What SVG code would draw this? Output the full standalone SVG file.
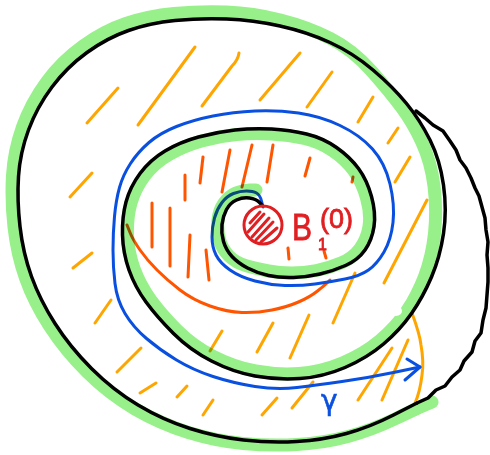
<svg xmlns="http://www.w3.org/2000/svg" width="490" height="455" viewBox="0 0 490 455">
<style>
.k{fill:none;stroke:#000;stroke-width:3.5;stroke-linecap:round;stroke-linejoin:round}
.o{fill:none;stroke:#ffa500;stroke-width:3;stroke-linecap:round;stroke-linejoin:round}
.r{fill:none;stroke:#ff5500;stroke-width:3;stroke-linecap:round;stroke-linejoin:round}
.b{fill:none;stroke:#0a50e0;stroke-width:3;stroke-linecap:round;stroke-linejoin:round}
.g{fill:none;stroke:#98f08a;stroke-width:13;stroke-linecap:round;stroke-linejoin:round}
.red{fill:none;stroke:#e01f22;stroke-width:3;stroke-linecap:round}
</style>
<rect width="490" height="455" fill="#fff"/>
<g id="outer-hatching" class="o">
<path d="M195,47 L138,125"/>
<path d="M239,53 Q238,60 232,66 L202,106"/>
<path d="M300,53 L260,100"/>
<path d="M332,72 L307,107"/>
<path d="M118,88 L87,123"/>
<path d="M373,97 L358,122"/>
<path d="M398,128 L388,143"/>
<path d="M410,157 L395,182"/>
<path d="M92,173 L70,197"/>
<path d="M427,200 L384,283"/>
<path d="M92,253 L73,268"/>
<path d="M355,273 L333,323"/>
<path d="M111,300 L95,323"/>
<path d="M309,315 L290,358"/>
<path d="M273,323 L257,352"/>
<path d="M222,331 L210,351"/>
<path d="M141,348 L117,372"/>
<path d="M156,383 L140,393"/>
<path d="M187,386 L177,397"/>
<path d="M213,400 L203,415"/>
<path d="M277,398 L262,415"/>
<path d="M313,382 L292,408"/>
<path d="M392,348 L358,400"/>
<path d="M408,340 L382,400"/>
<path d="M412,313 Q420,335 421,345 Q424,362 422,375 Q420,392 415,403"/>
</g>
<g id="inner-hatching" class="r">
<path d="M185,175 L185,200"/>
<path d="M203,157 L200,183"/>
<path d="M230,150 L222,192"/>
<path d="M252,145 L242,187"/>
<path d="M273,145 L267,182"/>
<path d="M310,158 L305,176"/>
<path d="M353,177 L352,182"/>
<path d="M152,203 L152,247"/>
<path d="M170,208 L170,266"/>
<path d="M190,235 L188,277"/>
<path d="M206,250 L209,280"/>
<path d="M288,248 L289,259"/>
<path d="M324,251 L326,258"/>
<path d="M127,225 L130,232.5 Q133,240 140,250 Q147,260 157,270 Q167,280 180,290 Q193,300 210,306 Q227,312 242,312.5 Q257,313 272,310 Q287,307 298.5,302 Q310,297 317.5,291 Q325,285 327.5,282.5 L330,280"/>
</g>
<g id="connectors">
<path id="gamma-path" class="b" d="M263,207 L261.5,201 Q260,195 256.5,193 Q253,191 246.5,191 Q240,191 233.5,193.5 Q227,196 222,202.5 Q217,209 214.5,218 Q212,227 212,237 Q212,247 216,255 Q220,263 230,270 Q240,277 255,281 Q270,285 285,285.5 Q300,286 315,284 Q330,282 345,279 Q360,276 368.5,270 Q377,264 384,252 Q391,240 393,222.5 Q395,205 390,184 Q385,163 372.5,149 Q360,135 340,125.5 Q320,116 298.5,113 Q277,110 255,111 Q233,112 213,116 Q193,120 176.5,126.5 Q160,133 149,142.5 Q138,152 130.5,163.5 Q123,175 119.5,187.5 Q116,200 114.5,216.5 Q113,233 113,250 Q113,267 115,283.5 Q117,300 125,313.5 Q133,327 146.5,338.5 Q160,350 176.5,360 Q193,370 213,376.5 Q233,383 255,386.5 Q277,390 297,387.5 Q317,385 342,381.5 Q367,378 393.5,372.5 L420,367"/>
<path class="b" d="M407,359 L420,367 L405,380"/>
</g>
<g id="spiral" class="k">
<path d="M262,205 L259,202 Q256,199 249.5,198 Q243,197 236.5,200 Q230,203 226.5,209.5 Q223,216 222,224.5 Q221,233 223.5,241.5 Q226,250 232,256.5 Q238,263 247.5,268 Q257,273 268.5,275.5 Q280,278 293.5,277.5 Q307,277 320,274 Q333,271 345.5,265.5 Q358,260 365,250 Q372,240 374,226.5 Q376,213 371.5,196.5 Q367,180 358.5,168.5 Q350,157 336.5,147.5 Q323,138 306.5,134 Q290,130 271.5,129 Q253,128 235,130 Q217,132 198.5,137 Q180,142 165,151 Q150,160 140,173.5 Q130,187 126,202 Q122,217 122.5,235 Q123,253 129,270 Q135,287 146,302 Q157,317 173.5,333.5 Q190,350 211.5,361 Q233,372 255,376 Q277,380 300,378.5 Q323,377 345,367.5 Q367,358 383.5,344 Q400,330 411.5,313.5 Q423,297 431.5,277 Q440,257 443.5,233.5 Q447,210 443.5,185 Q440,160 430,140 Q420,120 406.5,103.5 Q393,87 373,70 Q353,53 330,42.5 Q307,32 280,26 Q253,20 226.5,19 Q200,18 175,20.5 Q150,23 128.5,30.5 Q107,38 87,52.5 Q67,67 52,87 Q37,107 28.5,130 Q20,153 18.5,176.5 Q17,200 20,226.5 Q23,253 31.5,276.5 Q40,300 55,323.5 Q70,347 91.5,368.5 Q113,390 138,405 Q163,420 190,428.5 Q217,437 243.5,440 Q270,443 296.5,441.5 Q323,440 346.5,433.5 Q370,427 393.5,415 L417,403"/>
<path d="M417,403 L428,398 L436,390 L445,386 L452,377 L460,370 L464,361 L472,352 L475,341 L481,333 L483,320 L486,308 L487,295 L488,282 L488,268 L487,255 L488,242 L486,230 L485,218 L482,207 L479,196 L475,188 L471,178 L466,168 L460,160 L456,150 L450,141 L443,131 L433,125 L425,118 L416,111"/>
</g>
<g id="highlight" style="mix-blend-mode:multiply">
<path class="g" d="M256,190 L249.5,190 Q243,190 236,193 Q229,196 224,203 Q219,210 218,220 Q217,230 219.5,239.5 Q222,249 229,256 Q236,263 247,266 Q258,269 268.5,271 Q279,273 291.5,273 Q304,273 316.5,270.5 Q329,268 341,263 Q353,258 360,248.5 Q367,239 369,226.5 Q371,214 366.5,198 Q362,182 354,171 Q346,160 333,151 Q320,142 304.5,138.5 Q289,135 271.5,134 Q254,133 236.5,134.5 Q219,136 201.5,141 Q184,146 169,154.5 Q154,163 144.5,176 Q135,189 131,203 Q127,217 127.5,234.5 Q128,252 134,268.5 Q140,285 150.5,299.5 Q161,314 177,330 Q193,346 213.5,356.5 Q234,367 255.5,371 Q277,375 299,373.5 Q321,372 342.5,363 Q364,354 380,340.5 Q396,327 406.5,311.5 Q417,296 424.5,276.5 Q432,257 434.5,233.5 Q437,210 434,186 Q431,162 422,142.5 Q413,123 401.5,107.5 Q390,92 371.5,71 Q353,50 330.5,38.5 Q308,27 280.5,20 Q253,13 226.5,12 Q200,11 174,13.5 Q148,16 126,23.5 Q104,31 83,46 Q62,61 46.5,82 Q31,103 22.5,127 Q14,151 12.5,175.5 Q11,200 14,227 Q17,254 25.5,278 Q34,302 49.5,326 Q65,350 87,372 Q109,394 135,409 Q161,424 188.5,432.5 Q216,441 243,443.5 Q270,446 297,444.5 Q324,443 348,436.5 Q372,430 396,418.5 Q420,407 426,404.5 L432,402"/>
</g>
<ellipse cx="396" cy="311" rx="6" ry="5" fill="#fff"/>
<g id="ball">
<circle class="red" cx="263" cy="225" r="19"/>
<path class="red" d="M250,223 L260,212 M248,232 L264,214 M252,237 L269,218 M256,240 L273,222 M261,242 L277,228"/>
<text fill="#e01f22" stroke="#e01f22" stroke-width="0.8" font-family="'Liberation Sans', Arial, sans-serif"><tspan x="292" y="240" font-size="37" textLength="20" lengthAdjust="spacingAndGlyphs">B</tspan><tspan x="318" y="250" font-size="16">1</tspan><tspan x="320" y="228" font-size="27">(0)</tspan></text>
</g>
<g id="gamma-label">
<text x="321" y="410" fill="#0a50e0" stroke="#0a50e0" stroke-width="0.6" font-family="'DejaVu Sans', sans-serif" font-size="28">γ</text>
</g>
</svg>
